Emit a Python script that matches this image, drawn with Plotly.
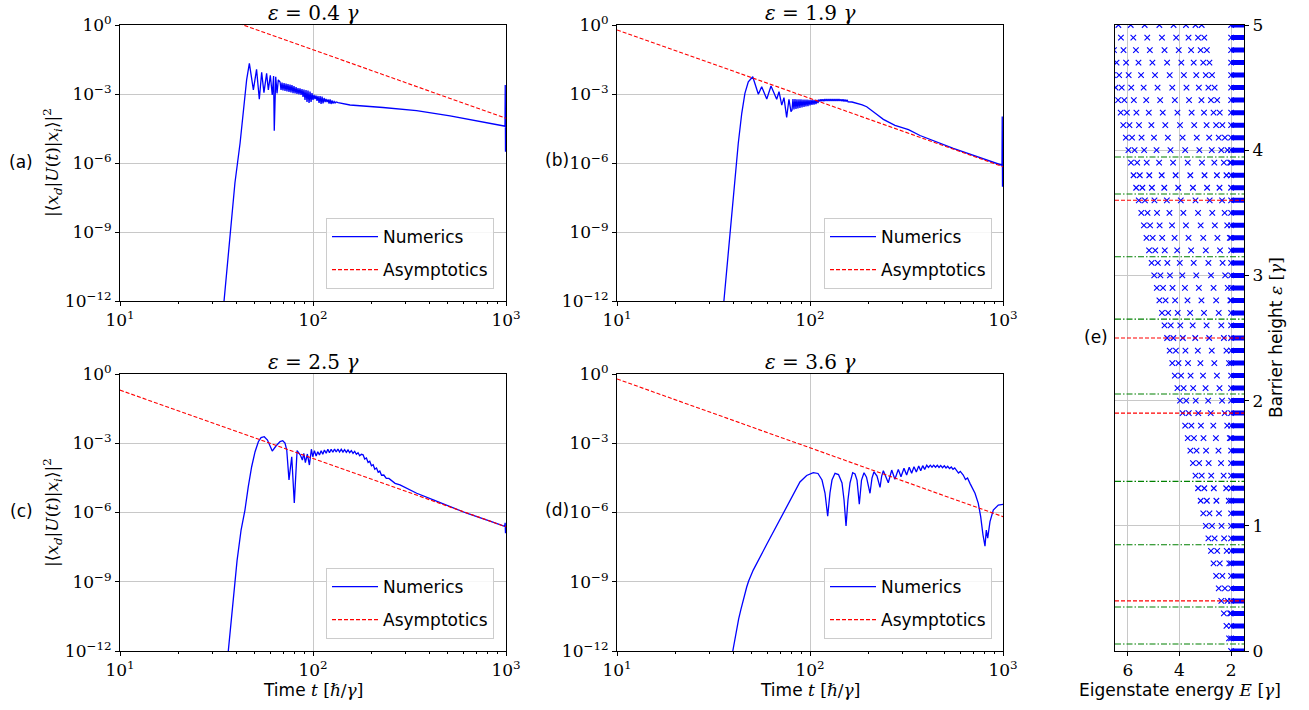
import plotly.graph_objects as go

W, H = 1309, 710

# ------------------------------------------------------------------ data
panel_eps = [0.4, 1.9, 2.5, 3.6]
panel_tags = ["(a)", "(b)", "(c)", "(d)"]

t_tickvals = [10, 100, 1000]
t_ticktext = ["10<sup>1</sup>", "10<sup>2</sup>", "10<sup>3</sup>"]
t_minor = [20, 30, 40, 50, 60, 70, 80, 90, 200, 300, 400, 500, 600, 700, 800, 900]
p_tickvals = [1e-12, 1e-9, 1e-6, 1e-3, 1]
p_ticktext = ["10<sup>−12</sup>", "10<sup>−9</sup>", "10<sup>−6</sup>", "10<sup>−3</sup>", "10<sup>0</sup>"]

# asymptotic power laws (t, |amp|^2)
asym_t = [10, 1000]
asym_a = [80.0, 8.8e-5]
asym_b = [0.61, 6.9e-7]
asym_c = [0.2, 2.4e-7]
asym_d = [0.61, 6.6e-7]

# numerics (t, |amp|^2)
num_a = [(34.6, 1e-12), (37.2, 9.1e-10), (39.4, 1.35e-7), (41.9, 7.4e-6), (43.6, 2.0e-4), (45.3, 4.1e-3),
         (46.8, 2.16e-2), (49.1, 1.5e-3), (51.0, 1.18e-2), (52.7, 5.9e-4), (54.2, 8.7e-3), (55.7, 1.15e-3),
         (57.5, 7.9e-3), (58.7, 1.5e-3), (60.1, 6.5e-3), (61.5, 9.1e-4), (62.5, 6.0e-3), (63.0, 2.5e-5),
         (64.1, 5.6e-3), (65.1, 1.07e-3), (66.1, 4.1e-3),
         (67.5, 3.33e-3), (68.3, 1.49e-3), (69.1, 3.16e-3), (69.9, 1.42e-3), (70.8, 3.01e-3), (71.6, 1.35e-3),
         (72.5, 2.86e-3), (73.3, 1.28e-3), (74.2, 2.72e-3), (75.1, 1.22e-3), (76.0, 2.59e-3), (76.9, 1.16e-3),
         (77.8, 2.46e-3), (78.8, 1.1e-3), (79.7, 2.23e-3), (80.7, 1.05e-3), (81.7, 2.02e-3), (82.6, 1.0e-3),
         (83.6, 1.82e-3), (84.6, 9.5e-4), (85.6, 1.74e-3), (86.7, 9.05e-4), (87.7, 1.65e-3), (88.8, 7.4e-4),
         (89.8, 1.57e-3), (90.9, 5.5e-4), (92.0, 1.49e-3), (93.1, 4.5e-4), (94.2, 1.42e-3), (95.4, 4.07e-4),
         (96.5, 1.28e-3), (97.7, 4.5e-4), (98.8, 1.1e-3), (100.0, 5.5e-4), (101.2, 9.05e-4), (102.4, 6.06e-4),
         (103.7, 8.6e-4), (104.9, 4.97e-4), (106.2, 8.2e-4), (107.5, 4.07e-4), (108.8, 8.2e-4), (110.1, 3.68e-4),
         (111.4, 7.8e-4), (112.7, 3.87e-4), (114.1, 6.7e-4), (115.5, 4.5e-4), (116.8, 6.06e-4), (118.2, 4.5e-4),
         (119.7, 5.77e-4), (121.1, 3.87e-4), (122.6, 5.77e-4), (124.0, 3.68e-4), (125.5, 5.22e-4), (127.0, 3.87e-4),
         (128.6, 4.72e-4), (130.1, 4.07e-4), (131.7, 4.5e-4), (134.9, 4.18e-4),
         (155.5, 3.33e-4), (230.5, 2.59e-4), (344, 1.88e-4), (513, 1.11e-4), (763, 6.25e-5), (977, 4.06e-5),
         (988, 3.9e-5), (991, 2.46e-3), (994, 3.1e-6), (997, 2.0e-4), (1000, 3.8e-5)]

num_b = [(35.8, 1e-12), (38.5, 8.8e-10), (40.9, 1.82e-7), (42.5, 7.2e-6), (44.3, 1.45e-4), (46.0, 1.07e-3),
         (47.9, 3.4e-3), (50.5, 5.65e-3), (54.0, 9.7e-4), (56.2, 2.07e-3), (59.7, 6.1e-4), (62.8, 2.23e-3),
         (67.2, 5.9e-4), (69.1, 1.26e-3), (71.4, 3.3e-4), (73.3, 6.9e-4), (75.7, 9.7e-5), (77.8, 5.9e-4),
         (79.7, 1.7e-4),
         (80.7, 2.0e-4), (81.6, 6.06e-4), (82.6, 2.12e-4), (83.6, 6.06e-4), (84.6, 2.23e-4), (85.6, 5.94e-4),
         (86.6, 2.34e-4), (87.7, 5.88e-4), (88.7, 2.46e-4), (89.8, 5.82e-4), (90.9, 2.59e-4), (92.0, 5.77e-4),
         (93.1, 2.72e-4), (94.2, 5.71e-4), (95.3, 2.86e-4), (96.5, 5.65e-4), (97.6, 3.0e-4), (98.8, 5.6e-4),
         (100.0, 3.16e-4), (101.2, 5.54e-4), (102.4, 3.33e-4), (103.6, 5.49e-4), (104.9, 3.49e-4), (106.1, 5.49e-4),
         (107.4, 3.68e-4), (108.7, 5.49e-4), (110.0, 4.07e-4),
         (111.3, 5.77e-4), (112.6, 4.72e-4), (114.0, 5.88e-4), (115.3, 4.82e-4), (116.7, 5.94e-4), (118.1, 4.87e-4),
         (119.5, 6.0e-4), (121.0, 4.97e-4), (122.4, 6.06e-4), (123.9, 4.97e-4), (125.4, 6.06e-4), (126.9, 4.97e-4),
         (128.4, 6.06e-4), (130.0, 4.97e-4), (131.5, 6.06e-4), (133.1, 4.97e-4), (134.7, 6.06e-4), (136.3, 4.97e-4),
         (138.0, 6.06e-4), (139.6, 4.97e-4), (141.3, 6.06e-4), (143.0, 4.97e-4), (144.7, 5.94e-4), (146.5, 4.87e-4),
         (148.2, 5.82e-4), (150.0, 4.77e-4), (151.8, 5.71e-4), (153.6, 4.68e-4), (155.5, 5.6e-4), (157.4, 4.58e-4),
         (165.1, 4.49e-4), (177.8, 3.94e-4), (186.5, 3.4e-4), (196.7, 2.8e-4), (208.8, 2.0e-4), (222.3, 1.29e-4),
         (239.9, 7.9e-5), (256.7, 5.7e-5), (275.6, 4.36e-5), (323.9, 2.83e-5), (371.5, 1.57e-5),
         (552.7, 4.36e-6), (823.4, 1.35e-6), (984.7, 8.2e-7),
         (988, 8.0e-7), (991, 1.04e-4), (994, 9.3e-8), (997, 2.0e-6), (1000, 7.0e-7)]

num_c = [(36.4, 1e-12), (38.6, 2.24e-10), (40.4, 8e-9), (42.4, 1.74e-7), (44.4, 1.28e-6), (46.2, 1.31e-5),
         (48.1, 9.6e-5), (50.1, 4.3e-4), (52.1, 1.17e-3), (53.8, 1.77e-3), (55.9, 1.92e-3), (58.1, 1.38e-3),
         (61.5, 4.6e-4), (64.3, 7.6e-4), (67.5, 1.19e-3), (69.7, 1.29e-3), (71.6, 1.02e-3), (73.1, 5.1e-4),
         (75.1, 2.6e-5), (77.6, 2.6e-4), (80.0, 2.6e-6), (82.7, 4.8e-4),
         (84.0, 3.9e-4), (86.0, 3.1e-4), (88.1, 1.88e-4), (89.6, 3.67e-4), (91.3, 1.44e-4), (93.5, 3.42e-4),
         (95.8, 1.14e-4), (98.1, 5.5e-4), (99.7, 2.6e-4), (101.7, 4.8e-4), (103.8, 2.8e-4), (105.9, 4.3e-4),
         (108.0, 3.1e-4), (110.2, 4.76e-4), (112.4, 3.32e-4), (114.6, 5.1e-4), (117.0, 3.67e-4), (119.4, 5.47e-4),
         (121.7, 3.9e-4), (124.2, 5.47e-4), (126.8, 4.06e-4), (129.3, 5.64e-4), (131.9, 4.18e-4), (134.6, 5.64e-4),
         (137.2, 4.18e-4), (140.1, 5.47e-4), (143.0, 4.18e-4), (145.8, 5.26e-4), (148.8, 4.06e-4), (151.8, 5.1e-4),
         (154.8, 3.9e-4), (158.0, 4.76e-4), (161.2, 3.67e-4), (164.4, 4.48e-4), (167.7, 3.32e-4), (171.2, 3.9e-4),
         (174.5, 2.89e-4), (178.1, 3.32e-4),
         (181.8, 3.16e-4), (185.3, 2.08e-4), (189.1, 2.32e-4), (193.0, 1.48e-4), (196.8, 1.65e-4), (200.8, 1.06e-4),
         (205.0, 1.18e-4), (209.0, 7.5e-5), (213.3, 8.5e-5), (217.7, 5.5e-5), (221.9, 6.2e-5), (226.5, 4.1e-5),
         (232.8, 4.2e-5), (239.7, 3.0e-5), (247.3, 3.0e-5), (257.7, 2.2e-5), (266.2, 1.84e-5), (282.3, 1.56e-5),
         (344.6, 6.8e-6), (420.2, 3.5e-6), (625.9, 9.3e-7), (826, 4.2e-7),
         (985, 2.5e-7), (990, 3.6e-7), (994, 1.26e-7), (997, 3.0e-7), (1000, 2.4e-7)]

num_d = [(39.8, 1e-12), (40.7, 3.2e-12), (41.7, 9.2e-12), (42.7, 2.47e-11), (43.8, 6.1e-11), (44.8, 1.41e-10),
         (45.9, 3.0e-10), (47.0, 5.9e-10), (48.1, 1.07e-9), (49.3, 1.8e-9), (50.8, 3.2e-9), (59.7, 4.2e-8),
         (69.9, 5.3e-7), (81.9, 6.8e-6), (88.7, 2.1e-5), (96.1, 4.0e-5), (104.0, 5.3e-5), (110.0, 4.9e-5),
         (115.4, 2.55e-5), (119.6, 7.0e-6), (123.5, 7.0e-7), (126.9, 7.0e-6), (130.0, 2.55e-5), (134.8, 5.0e-5),
         (140.5, 4.4e-5), (146.5, 1.9e-5), (150.1, 3.5e-6), (153.7, 2.6e-7), (157.3, 3.5e-6), (161.2, 1.9e-5),
         (166.4, 5.3e-5), (171.1, 4.65e-5), (175.2, 2.55e-5), (180.1, 2.3e-6), (184.9, 2.55e-5), (190.5, 5.3e-5),
         (196.2, 3.4e-5), (204.6, 6.8e-6), (209.5, 3.1e-5), (214.6, 5.8e-5), (222.4, 3.8e-5), (230.6, 1.23e-5),
         (235.2, 3.8e-5), (239.9, 6.4e-5), (254.5, 1.95e-5), (265.0, 6.9e-5), (275.4, 2.75e-5), (286.8, 7.4e-5),
         (296.1, 3.55e-5), (306.9, 8.2e-5), (316.7, 4.2e-5), (326.6, 9.1e-5), (336.3, 5.0e-5), (345.8, 9.6e-5),
         (355.6, 5.7e-5), (365.8, 1.03e-4), (374.7, 6.45e-5), (383.7, 1.07e-4), (392.9, 7.4e-5), (402.5, 1.11e-4),
         (411.2, 8.9e-5), (420.1, 1.12e-4), (428.7, 9.1e-5), (437.5, 1.12e-4), (447.1, 9.1e-5), (456.8, 1.11e-4),
         (466.1, 9.0e-5), (475.6, 1.09e-4), (485.9, 8.7e-5), (496.5, 1.05e-4), (506.7, 8.5e-5), (517.0, 1.0e-4),
         (528.3, 8.0e-5), (539.7, 9.3e-5), (550.8, 7.4e-5), (562.1, 8.5e-5), (575.4, 6.9e-5), (588.0, 5.1e-5),
         (600.9, 6.0e-5), (622.3, 4.2e-5), (639.3, 2.7e-5), (654.8, 3.1e-5), (674.5, 1.83e-5), (716.1, 6.8e-6),
         (744.7, 2.5e-6), (766.2, 6.6e-7), (787.7, 1.06e-7), (806.7, 3.5e-8), (819.4, 1.74e-7), (833.1, 7.8e-8),
         (856.3, 4.0e-7), (890.6, 1.28e-6), (945.4, 2.1e-6), (1000, 2.26e-6)]

# panel (e): eigenstate energies vs barrier height
barrier_heights = [0.0, 0.1, 0.2, 0.3, 0.4, 0.5, 0.6, 0.7, 0.8, 0.9, 1.0, 1.1, 1.2, 1.3, 1.4, 1.5, 1.6, 1.7,
                   1.8, 1.9, 2.0, 2.1, 2.2, 2.3, 2.4, 2.5, 2.6, 2.7, 2.8, 2.9, 3.0, 3.1, 3.2, 3.3, 3.4, 3.5,
                   3.6, 3.7, 3.8, 3.9, 4.0, 4.1, 4.2, 4.3, 4.4, 4.5, 4.6, 4.7, 4.8, 4.9, 5.0]
bound_levels = [
    [], [2.08], [2.18], [2.04, 2.28], [2.14, 2.38], [2.24, 2.48], [2.34, 2.58],
    [2.07, 2.44, 2.68], [2.17, 2.54, 2.78], [2.27, 2.64, 2.88], [2.37, 2.74, 2.98], [2.47, 2.84, 3.08],
    [2.09, 2.57, 2.94, 3.18], [2.19, 2.67, 3.04, 3.28], [2.29, 2.77, 3.14, 3.38], [2.39, 2.87, 3.24, 3.48],
    [2.49, 2.97, 3.34, 3.58], [2.05, 2.59, 3.07, 3.44, 3.68], [2.15, 2.69, 3.17, 3.54, 3.78],
    [2.25, 2.79, 3.27, 3.64, 3.88], [2.35, 2.89, 3.37, 3.74, 3.98], [2.45, 2.99, 3.47, 3.84, 4.08],
    [2.55, 3.09, 3.57, 3.94, 4.18], [2.08, 2.65, 3.19, 3.67, 4.04, 4.28], [2.18, 2.75, 3.29, 3.77, 4.14, 4.38],
    [2.28, 2.85, 3.39, 3.87, 4.24, 4.48], [2.38, 2.95, 3.49, 3.97, 4.34, 4.58],
    [2.48, 3.05, 3.59, 4.07, 4.44, 4.68], [2.03, 2.58, 3.15, 3.69, 4.17, 4.54, 4.78],
    [2.13, 2.68, 3.25, 3.79, 4.27, 4.64, 4.88], [2.23, 2.78, 3.35, 3.89, 4.37, 4.74, 4.98],
    [2.33, 2.88, 3.45, 3.99, 4.47, 4.84, 5.08], [2.43, 2.98, 3.55, 4.09, 4.57, 4.94, 5.18],
    [2.05, 2.53, 3.08, 3.65, 4.19, 4.67, 5.04, 5.28], [2.15, 2.63, 3.18, 3.75, 4.29, 4.77, 5.14, 5.38],
    [2.25, 2.73, 3.28, 3.85, 4.39, 4.87, 5.24, 5.48], [2.35, 2.83, 3.38, 3.95, 4.49, 4.97, 5.34, 5.58],
    [2.45, 2.93, 3.48, 4.05, 4.59, 5.07, 5.44, 5.68], [2.18, 2.55, 3.03, 3.58, 4.15, 4.69, 5.17, 5.54, 5.78],
    [2.04, 2.28, 2.65, 3.13, 3.68, 4.25, 4.79, 5.27, 5.64, 5.88],
    [2.14, 2.38, 2.75, 3.23, 3.78, 4.35, 4.89, 5.37, 5.74, 5.98],
    [2.24, 2.48, 2.85, 3.33, 3.88, 4.45, 4.99, 5.47, 5.84, 6.08],
    [2.34, 2.58, 2.95, 3.43, 3.98, 4.55, 5.09, 5.57, 5.94, 6.18],
    [2.44, 2.68, 3.05, 3.53, 4.08, 4.65, 5.19, 5.67, 6.04, 6.28],
    [2.54, 2.78, 3.15, 3.63, 4.18, 4.75, 5.29, 5.77, 6.14, 6.38],
    [2.64, 2.88, 3.25, 3.73, 4.28, 4.85, 5.39, 5.87, 6.24, 6.48],
    [2.74, 2.98, 3.35, 3.83, 4.38, 4.95, 5.49, 5.97, 6.34, 6.58],
    [2.84, 3.08, 3.45, 3.93, 4.48, 5.05, 5.59, 6.07, 6.44],
    [2.94, 3.18, 3.55, 4.03, 4.58, 5.15, 5.69, 6.17, 6.54],
    [3.04, 3.28, 3.65, 4.13, 4.68, 5.25, 5.79, 6.27, 6.64],
    [3.14, 3.38, 3.75, 4.23, 4.78, 5.35, 5.89, 6.37],
]
continuum_top = 2.0
continuum_bottom = -2.0
resonance_heights = [0.056, 0.351, 0.849, 1.355, 2.053, 2.651, 3.149, 3.650, 3.946]
e_xticks = [2, 4, 6]
e_yticks = [0, 1, 2, 3, 4, 5]

# ------------------------------------------------------------------ style
BLUE, RED, GREEN = "#0000ff", "#ff0000", "#008000"
SERIF = "DejaVu Serif"
SANS = "DejaVu Sans"
GRID = "#c8c8c8"


def dom_x(p0, p1):
    return [p0 / W, p1 / W]


def dom_y(p0, p1):
    return [1 - p1 / H, 1 - p0 / H]


def px(x):
    return x / W


def py(y):
    return 1 - y / H


fig = go.Figure()

panels = [num_a, num_b, num_c, num_d]
asyms = [asym_a, asym_b, asym_c, asym_d]
legend_names = ["legend", "legend2", "legend3", "legend4"]
for i in range(4):
    ax = "" if i == 0 else str(i + 1)
    tt = [p[0] for p in panels[i]]
    yy = [p[1] for p in panels[i]]
    fig.add_trace(go.Scatter(x=tt, y=yy, mode="lines", name="Numerics",
                             line=dict(color=BLUE, width=1.3),
                             xaxis="x" + ax, yaxis="y" + ax,
                             legend=legend_names[i], legendgroup="num%d" % i))
    fig.add_trace(go.Scatter(x=asym_t, y=asyms[i], mode="lines", name="Asymptotics",
                             line=dict(color=RED, width=1.1, dash="4px,2px"),
                             xaxis="x" + ax, yaxis="y" + ax,
                             legend=legend_names[i], legendgroup="asy%d" % i))

# panel (e)
band_x, band_y = [], []
for eps in barrier_heights:
    band_x += [continuum_top, continuum_bottom, None]
    band_y += [eps, eps, None]
fig.add_trace(go.Scatter(x=band_x, y=band_y, mode="lines", line=dict(color=BLUE, width=5),
                         xaxis="x5", yaxis="y5", showlegend=False, hoverinfo="skip"))
lx, ly = [], []
for eps, levels in zip(barrier_heights, bound_levels):
    for e in [continuum_top] + levels:
        lx.append(e)
        ly.append(eps)
fig.add_trace(go.Scatter(x=lx, y=ly, mode="markers",
                         marker=dict(symbol="x-thin", size=5.5, color=BLUE,
                                     line=dict(color=BLUE, width=1.1)),
                         xaxis="x5", yaxis="y5", showlegend=False))

for v in resonance_heights:
    fig.add_shape(type="line", xref="x5 domain", x0=0, x1=1, yref="y5", y0=v, y1=v,
                  line=dict(color=GREEN, width=1.1, dash="6px,2px,1.5px,2px"))
for v in panel_eps:
    fig.add_shape(type="line", xref="x5 domain", x0=0, x1=1, yref="y5", y0=v, y1=v,
                  line=dict(color=RED, width=1.1, dash="4px,2px"))

# ------------------------------------------------------------------ axes
tickfont = dict(family=SERIF, size=17, color="black")
base = dict(showline=True, mirror=True, linecolor="black", linewidth=1, ticks="outside",
            ticklen=4, tickwidth=1, tickcolor="black", showgrid=True, gridcolor=GRID,
            gridwidth=1, zeroline=False, tickfont=tickfont, automargin=False)

xdoms = [dom_x(120, 506), dom_x(617, 1003), dom_x(120, 506), dom_x(617, 1003)]
ydoms = [dom_y(25, 301), dom_y(25, 301), dom_y(374, 651), dom_y(374, 651)]
layout_axes = {}
for i in range(4):
    ax = "" if i == 0 else str(i + 1)
    layout_axes["xaxis" + ax] = dict(base, type="log", range=[1, 3], domain=xdoms[i],
                                     anchor="y" + ax, tickmode="array", tickvals=t_tickvals,
                                     ticktext=t_ticktext,
                                     minor=dict(ticks="outside", ticklen=2, tickcolor="black",
                                                tickvals=t_minor, showgrid=False))
    layout_axes["yaxis" + ax] = dict(base, type="log", range=[-12, 0], domain=ydoms[i],
                                     anchor="x" + ax, tickmode="array", tickvals=p_tickvals,
                                     ticktext=p_ticktext)
layout_axes["xaxis5"] = dict(base, range=[6.5, 1.5], domain=dom_x(1115, 1244), anchor="y5",
                             tickmode="array", tickvals=e_xticks)
layout_axes["yaxis5"] = dict(base, range=[0, 5], domain=dom_y(25, 651), anchor="x5",
                             side="right", tickmode="array", tickvals=e_yticks)

# ------------------------------------------------------------------ legends
leg_base = dict(font=dict(family=SANS, size=17, color="black"), bgcolor="rgba(255,255,255,0.85)",
                bordercolor="#cccccc", borderwidth=1, traceorder="grouped", tracegroupgap=8,
                xanchor="right", yanchor="bottom", itemwidth=46)
legends = {
    "legend": dict(leg_base, x=px(494), y=py(289)),
    "legend2": dict(leg_base, x=px(992), y=py(289)),
    "legend3": dict(leg_base, x=px(494), y=py(639)),
    "legend4": dict(leg_base, x=px(992), y=py(639)),
}

# ------------------------------------------------------------------ annotations
ann = []
title_pos = [(313, 13), (810, 13), (313, 362), (810, 362)]
tag_pos = [(21, 162), (557, 160), (21, 511), (557, 510)]
for i in range(4):
    ann.append(dict(x=px(title_pos[i][0]), y=py(title_pos[i][1]), xref="paper", yref="paper",
                    text="<i>ε</i> = %s <i>γ</i>" % panel_eps[i], showarrow=False,
                    font=dict(family=SERIF, size=20, color="black"),
                    xanchor="center", yanchor="middle"))
    ann.append(dict(x=px(tag_pos[i][0]), y=py(tag_pos[i][1]), xref="paper", yref="paper",
                    text=panel_tags[i], showarrow=False,
                    font=dict(family=SANS, size=17, color="black"),
                    xanchor="center", yanchor="middle"))
ylabel = ("|⟨<i>x</i><sub><i>d</i></sub>|<i>U</i>(<i>t</i>)|<i>x</i><sub><i>i</i></sub>⟩|"
          "<sup>2</sup>")
for yc in (163, 513):
    ann.append(dict(x=px(52), y=py(yc), xref="paper", yref="paper", text=ylabel,
                    textangle=-90, showarrow=False,
                    font=dict(family=SERIF, size=17, color="black"),
                    xanchor="center", yanchor="middle"))
xlabel = ('<span style="font-family:DejaVu Sans">Time </span><i>t</i> [ℏ/<i>γ</i>]')
for xc in (313, 810):
    ann.append(dict(x=px(xc), y=py(690), xref="paper", yref="paper", text=xlabel,
                    showarrow=False, font=dict(family=SERIF, size=17, color="black"),
                    xanchor="center", yanchor="middle"))
ann.append(dict(x=px(1096), y=py(337), xref="paper", yref="paper", text="(e)",
                showarrow=False, font=dict(family=SANS, size=17, color="black"),
                xanchor="center", yanchor="middle"))
ann.append(dict(x=px(1180), y=py(690), xref="paper", yref="paper",
                text='<span style="font-family:DejaVu Sans">Eigenstate energy </span><i>E</i> [<i>γ</i>]',
                showarrow=False, font=dict(family=SERIF, size=17, color="black"),
                xanchor="center", yanchor="middle"))
ann.append(dict(x=px(1276), y=py(338), xref="paper", yref="paper",
                text='<span style="font-family:DejaVu Sans">Barrier height </span><i>ε</i> [<i>γ</i>]',
                textangle=-90, showarrow=False, font=dict(family=SERIF, size=17, color="black"),
                xanchor="center", yanchor="middle"))

fig.update_layout(width=W, height=H, margin=dict(l=0, r=0, t=0, b=0, autoexpand=False),
                  paper_bgcolor="white", plot_bgcolor="white",
                  annotations=ann, **layout_axes, **legends)

# remove the browser's default 8px page margin so the figure sits at the window origin
fig.write_html("out.html", config={"displayModeBar": False},
               post_script="document.body.style.margin='0';document.body.style.overflow='hidden';")
